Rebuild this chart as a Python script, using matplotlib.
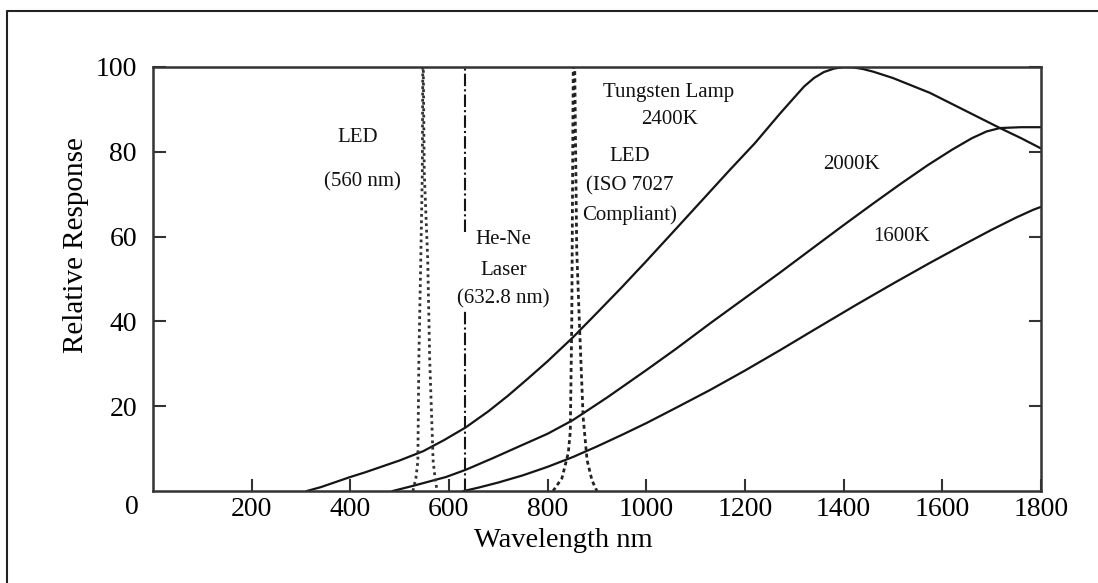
import matplotlib
matplotlib.use("Agg")
import matplotlib.pyplot as plt
from matplotlib.lines import Line2D

plt.rcParams["font.family"] = ["Liberation Serif", "DejaVu Serif"]

# ---------------------------------------------------------------- DATA -----
# tungsten lamp curves (wavelength nm, relative response)
t2400_nm = [312, 340, 370, 400, 430, 460, 500, 548, 590, 634, 680, 720, 760, 800,
            851, 900, 950, 1000, 1060, 1115, 1170, 1220, 1271, 1300, 1320, 1340,
            1360, 1380, 1400, 1420, 1440, 1460, 1500, 1575, 1640, 1717, 1760, 1800]
t2400_val = [0, 0.9, 2.1, 3.3, 4.4, 5.6, 7.2, 9.4, 12.0, 15.0, 18.8, 22.5, 26.5, 30.6,
             36.2, 42.0, 48.0, 54.2, 61.8, 68.8, 75.8, 82.0, 89.0, 92.8, 95.4, 97.4,
             98.8, 99.6, 100, 99.9, 99.5, 98.9, 97.4, 93.9, 90.1, 85.6, 83.2, 80.8]

t2000_nm = [486, 530, 594, 634, 690, 740, 800, 851, 920, 1000, 1060, 1129, 1200,
            1271, 1340, 1400, 1460, 1514, 1570, 1620, 1660, 1690, 1717, 1760, 1800]
t2000_val = [0, 1.3, 3.3, 5.0, 7.8, 10.4, 13.5, 16.7, 22.0, 28.5, 33.5, 39.5, 45.5,
             51.5, 57.5, 62.7, 67.8, 72.3, 76.8, 80.5, 83.2, 84.8, 85.6, 85.8, 85.8]

t1600_nm = [630, 660, 700, 750, 800, 851, 900, 950, 1000, 1060, 1129, 1200, 1271,
            1340, 1427, 1500, 1575, 1640, 1700, 1750, 1784, 1800]
t1600_val = [0, 0.8, 2.0, 3.7, 5.7, 8.0, 10.5, 13.2, 16.0, 19.6, 23.8, 28.4, 33.2,
             38.0, 44.0, 48.9, 53.8, 57.9, 61.6, 64.5, 66.3, 67.0]

# LED emission peaks (clipped at the top of the chart)
led560_nm = [527, 533, 537, 539, 543, 546, 547, 548, 550, 557, 561, 568, 572, 576]
led560_val = [0, 3.0, 7.0, 31, 55, 75, 100, 100, 75, 54.5, 31, 7.0, 3.0, 0]

led860_nm = [811, 829, 842, 846, 849, 851, 852, 855, 859, 865, 872, 880, 890, 900]
led860_val = [0, 3.0, 9.0, 14, 40, 80, 100, 100, 57, 38, 17.5, 7.3, 2.5, 0]

# He-Ne laser line, broken where its label sits
laser_nm = 632.8
laser_spans = [(0, 43), (61, 100)]

xticks = [200, 400, 600, 800, 1000, 1200, 1400, 1600, 1800]
yticks = [20, 40, 60, 80, 100]

# ---------------------------------------------------------------- FIGURE ---
fig = plt.figure(figsize=(10.98, 5.83), dpi=100)
ax = fig.add_axes([0.1393, 0.1578, 0.8087, 0.7273])

INK = "#151515"
for xs, ys in [(t2400_nm, t2400_val), (t2000_nm, t2000_val), (t1600_nm, t1600_val)]:
    ax.plot(xs, ys, color=INK, lw=1.6, solid_joinstyle="round")

ax.plot(led560_nm, led560_val, color="#333333", lw=2.0, ls=(0, (1, 1.3)))
ax.plot(led860_nm, led860_val, color="#222222", lw=2.0, ls=(0, (1.4, 1.2)))
for y0, y1 in laser_spans:
    ax.plot([laser_nm, laser_nm], [y0, y1], color=INK, lw=1.5, ls=(0, (6, 1.5, 1, 1.5)))

ax.set_xlim(0, 1800)
ax.set_ylim(0, 100)
ax.set_xticks(xticks)
ax.set_yticks(yticks)
ax.tick_params(direction="in", length=9, width=1.5, color="#333333",
               labelsize=20, right=True)
ax.tick_params(axis="x", pad=4)
ax.tick_params(axis="y", pad=11.5)
for s in ax.spines.values():
    s.set_linewidth(1.8)
    s.set_color("#333333")

ax.text(-0.024, -0.038, "0", transform=ax.transAxes, ha="center", va="center",
        fontsize=20)

ax.set_xlabel("Wavelength nm", fontsize=20.5, va="center")
ax.xaxis.set_label_coords(0.462, -0.117)
ax.set_ylabel("Relative Response", fontsize=21, va="center")
ax.yaxis.set_label_coords(-0.0867, 0.579)

# curve annotations
notes = [
    ("LED", 416, 83.3), ("(560 nm)", 424, 72.9),
    ("Tungsten Lamp", 1046, 94.1), ("2400K", 1048, 87.5),
    ("LED", 967, 79.0), ("(ISO 7027", 967, 71.9), ("Compliant)", 967, 65.1),
    ("He-Ne", 711, 59.2), ("Laser", 711, 52.1), ("(632.8 nm)", 711, 45.3),
    ("2000K", 1415, 76.9), ("1600K", 1518, 60.1),
]
for txt, x, y in notes:
    ax.text(x, y, txt, ha="center", va="center", fontsize=15, color="#111111")

# outer frame (left and top edges of the scanned figure border)
fig.add_artist(Line2D([7 / 1098, 7 / 1098, 1.0], [0.0, 1 - 11 / 583, 1 - 11 / 583],
                      transform=fig.transFigure, color="#222222", lw=1.5))

fig.savefig("out.png", dpi=100)
